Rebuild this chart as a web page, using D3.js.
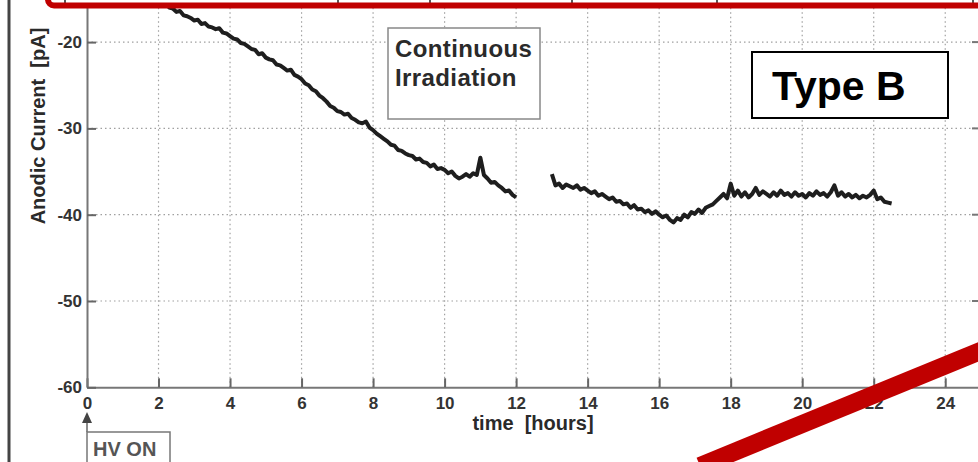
<!DOCTYPE html>
<html>
<head>
<meta charset="utf-8">
<script src="https://cdn.jsdelivr.net/npm/d3@7"></script>
<style>
  body { margin: 0; background: #fff; }
  svg { display: block; }
  .tick-label { font-family: "Liberation Sans", Arial, sans-serif; font-weight: bold; fill: #333; }
  .axis-text { font-family: "Liberation Sans", Arial, sans-serif; font-weight: bold; fill: #2a2a2a; }
</style>
</head>
<body>
<div class="chart"></div>
<script>
// anodic current readings, sampled every 0.1 hour
var seg1Start = 2.0;
var seg1Values = [
  -15.3, -15.6, -15.5, -16.0, -16.1, -16.5, -16.4, -16.9, -17.0, -17.2,
  -17.5, -17.4, -17.9, -17.8, -18.2, -18.3, -18.5, -18.4, -18.9, -19.0,
  -19.3, -19.6, -19.7, -20.1, -20.2, -20.5, -20.8, -20.9, -21.4, -21.3,
  -21.8, -22.0, -22.1, -22.6, -22.7, -23.0, -23.3, -23.2, -23.8, -24.0,
  -24.3, -24.8, -25.0, -25.5, -25.7, -26.2, -26.5, -26.9, -27.4, -27.6,
  -28.0, -28.1, -28.4, -28.3, -28.8, -29.0, -29.3, -29.4, -29.2, -29.9,
  -30.2, -30.6, -30.9, -31.2, -31.5, -31.9, -32.0, -32.5, -32.6, -32.9,
  -33.1, -33.2, -33.6, -33.5, -33.9, -34.0, -34.4, -34.2, -34.7, -34.6,
  -34.8, -35.2, -35.0, -35.5, -35.8, -35.6, -35.3, -35.6, -35.2, -35.4,
  -33.4, -35.4, -35.8, -36.3, -36.2, -36.6, -36.9, -37.3, -37.2, -37.7,
  -38.0
];
var seg2Start = 13.0;
var seg2Values = [
  -35.3, -36.6, -36.4, -36.9, -36.5, -36.7, -36.9, -36.6, -37.1, -36.9,
  -37.2, -37.5, -37.3, -37.8, -37.6, -37.9, -38.2, -38.0, -38.5, -38.4,
  -38.8, -38.7, -39.2, -38.9, -39.4, -39.3, -39.7, -39.5, -39.9, -39.6,
  -40.0, -40.3, -40.1, -40.6, -40.9, -40.4, -40.6, -40.0, -40.3, -39.7,
  -39.9, -39.4, -39.8, -39.2, -39.0, -38.8, -38.4, -38.0, -37.6, -38.1,
  -36.4, -37.8, -37.2, -37.9, -37.4, -38.0, -37.6, -36.9, -37.7, -37.3,
  -37.6, -37.9, -37.4, -37.8, -37.2, -37.7, -37.5, -37.9, -37.4, -37.8,
  -37.6, -38.0, -37.5, -37.8, -37.3, -37.7, -37.5, -37.9, -37.4, -36.6,
  -37.8, -37.4, -37.9, -37.6, -38.0, -37.7, -38.1, -37.8, -38.0, -37.7,
  -37.2, -38.2, -38.0, -38.5, -38.6, -38.7
];
var xTicks = [0, 2, 4, 6, 8, 10, 12, 14, 16, 18, 20, 22, 24];
var yTicks = [-60, -50, -40, -30, -20];
// cell borders of the table sitting above the plot
var tableCells = [65, 338, 430, 572, 717, 973];

var svgWidth = 978;
var svgHeight = 462;

var svg = d3.select(".chart")
  .append("svg")
  .attr("width", svgWidth)
  .attr("height", svgHeight);

svg.append("rect")
  .attr("width", svgWidth)
  .attr("height", svgHeight)
  .attr("fill", "#fff");

// scales (plot top is cropped away above the picture)
var xScale = d3.scaleLinear().domain([0, 25]).range([87, 981]);
var yScale = d3.scaleLinear().domain([-60, -10]).range([387.3, -44.2]);

var x0 = xScale(0), x1 = xScale(25);
var yBottom = yScale(-60), yTop = yScale(-10);

// dotted grid
var grid = svg.append("g")
  .attr("stroke", "#a0a0a0")
  .attr("stroke-width", 1.2)
  .attr("stroke-dasharray", "1.5,3");

grid.selectAll(".gx")
  .data(xTicks.filter(d => d > 0))
  .enter()
  .append("line")
  .attr("x1", d => xScale(d))
  .attr("x2", d => xScale(d))
  .attr("y1", yBottom)
  .attr("y2", yTop);

grid.selectAll(".gy")
  .data(yTicks.filter(d => d > -60))
  .enter()
  .append("line")
  .attr("x1", x0)
  .attr("x2", x1)
  .attr("y1", d => yScale(d))
  .attr("y2", d => yScale(d));

// axes with inward ticks
var bottomAxis = d3.axisBottom(xScale).tickValues(xTicks).tickSize(-9).tickSizeOuter(0).tickPadding(13);
var leftAxis = d3.axisLeft(yScale).tickValues(yTicks).tickSize(-9).tickSizeOuter(0).tickPadding(14)
  .tickFormat(d => String(d));

var xAxis = svg.append("g")
  .attr("transform", `translate(0, ${yBottom})`)
  .call(bottomAxis);

var yAxis = svg.append("g")
  .attr("transform", `translate(${x0}, 0)`)
  .call(leftAxis);

[xAxis, yAxis].forEach(function (ax) {
  ax.select(".domain").attr("stroke", "#777").attr("stroke-width", 2);
  ax.selectAll(".tick line").attr("stroke", "#666").attr("stroke-width", 2);
  ax.selectAll(".tick text")
    .attr("class", "tick-label")
    .attr("font-size", 17);
});
xAxis.selectAll(".tick text").attr("dy", "0.5em");
yAxis.selectAll(".tick text").attr("dx", 9);

// right side ticks of the box
svg.append("g").selectAll("line")
  .data(yTicks.filter(d => d > -60))
  .enter()
  .append("line")
  .attr("x1", x1 - 9)
  .attr("x2", x1)
  .attr("y1", d => yScale(d))
  .attr("y2", d => yScale(d))
  .attr("stroke", "#777")
  .attr("stroke-width", 2);

// current trace, gap between 12 and 13 hours
var line = d3.line()
  .x(d => xScale(d.t))
  .y(d => yScale(d.v));

[[seg1Start, seg1Values], [seg2Start, seg2Values]].forEach(function (seg) {
  var pts = seg[1].map((v, i) => ({ t: seg[0] + i * 0.1, v: v }));
  svg.append("path")
    .datum(pts)
    .attr("fill", "none")
    .attr("stroke", "#1e1e1e")
    .attr("stroke-width", 4)
    .attr("stroke-linejoin", "round")
    .attr("d", line);
});

// axis labels
svg.append("text")
  .attr("class", "axis-text")
  .attr("x", 533)
  .attr("y", 430)
  .attr("text-anchor", "middle")
  .attr("font-size", 20)
  .attr("xml:space", "preserve")
  .text("time  [hours]");

svg.append("text")
  .attr("class", "axis-text")
  .attr("transform", "translate(45, 126) rotate(-90)")
  .attr("text-anchor", "middle")
  .attr("font-size", 20)
  .attr("xml:space", "preserve")
  .text("Anodic Current  [pA]");

// annotation boxes
svg.append("rect")
  .attr("x", 388).attr("y", 28)
  .attr("width", 152).attr("height", 91)
  .attr("fill", "#fff")
  .attr("stroke", "#888")
  .attr("stroke-width", 1.5);
svg.append("text")
  .attr("class", "axis-text")
  .attr("x", 395).attr("y", 57)
  .attr("font-size", 24)
  .attr("letter-spacing", 0.4)
  .text("Continuous");
svg.append("text")
  .attr("class", "axis-text")
  .attr("x", 395).attr("y", 86)
  .attr("font-size", 24)
  .attr("letter-spacing", 0.4)
  .text("Irradiation");

svg.append("rect")
  .attr("x", 752).attr("y", 52)
  .attr("width", 196).attr("height", 66)
  .attr("fill", "#fff")
  .attr("stroke", "#000")
  .attr("stroke-width", 2);
svg.append("text")
  .attr("x", 772).attr("y", 100)
  .attr("font-family", "Liberation Sans, Arial, sans-serif")
  .attr("font-weight", "bold")
  .attr("font-size", 41)
  .attr("fill", "#000")
  .text("Type B");

// HV ON marker
svg.append("path")
  .attr("d", `M${x0},412 L${x0 - 5},423 L${x0 + 5},423 Z`)
  .attr("fill", "#444");
svg.append("line")
  .attr("x1", x0).attr("x2", x0)
  .attr("y1", 423).attr("y2", 432)
  .attr("stroke", "#666").attr("stroke-width", 1.5);
svg.append("rect")
  .attr("x", x0).attr("y", 432)
  .attr("width", 83).attr("height", 60)
  .attr("fill", "#fff")
  .attr("stroke", "#777")
  .attr("stroke-width", 1.5);
svg.append("text")
  .attr("class", "axis-text")
  .attr("x", 93).attr("y", 456)
  .attr("font-size", 20)
  .style("fill", "#555")
  .text("HV ON");

// left frame of the slide
svg.append("line")
  .attr("x1", 9).attr("x2", 9)
  .attr("y1", 0).attr("y2", svgHeight)
  .attr("stroke", "#444")
  .attr("stroke-width", 3);

// cropped table and red highlight box at the top
svg.append("rect")
  .attr("x", 48).attr("y", -20)
  .attr("width", 940).attr("height", 25)
  .attr("fill", "#fff");
svg.append("g").selectAll("line")
  .data(tableCells)
  .enter()
  .append("line")
  .attr("x1", d => d).attr("x2", d => d)
  .attr("y1", 0).attr("y2", 3)
  .attr("stroke", "#222")
  .attr("stroke-width", 1.5);
svg.append("rect")
  .attr("x", 48).attr("y", -60)
  .attr("width", 980).attr("height", 65.5)
  .attr("rx", 6)
  .attr("fill", "none")
  .attr("stroke", "#c00000")
  .attr("stroke-width", 6);

// red diagonal stroke bottom right
svg.append("line")
  .attr("x1", 700).attr("y1", 466)
  .attr("x2", 990).attr("y2", 347)
  .attr("stroke", "#c00000")
  .attr("stroke-width", 18);
</script>
</body>
</html>
